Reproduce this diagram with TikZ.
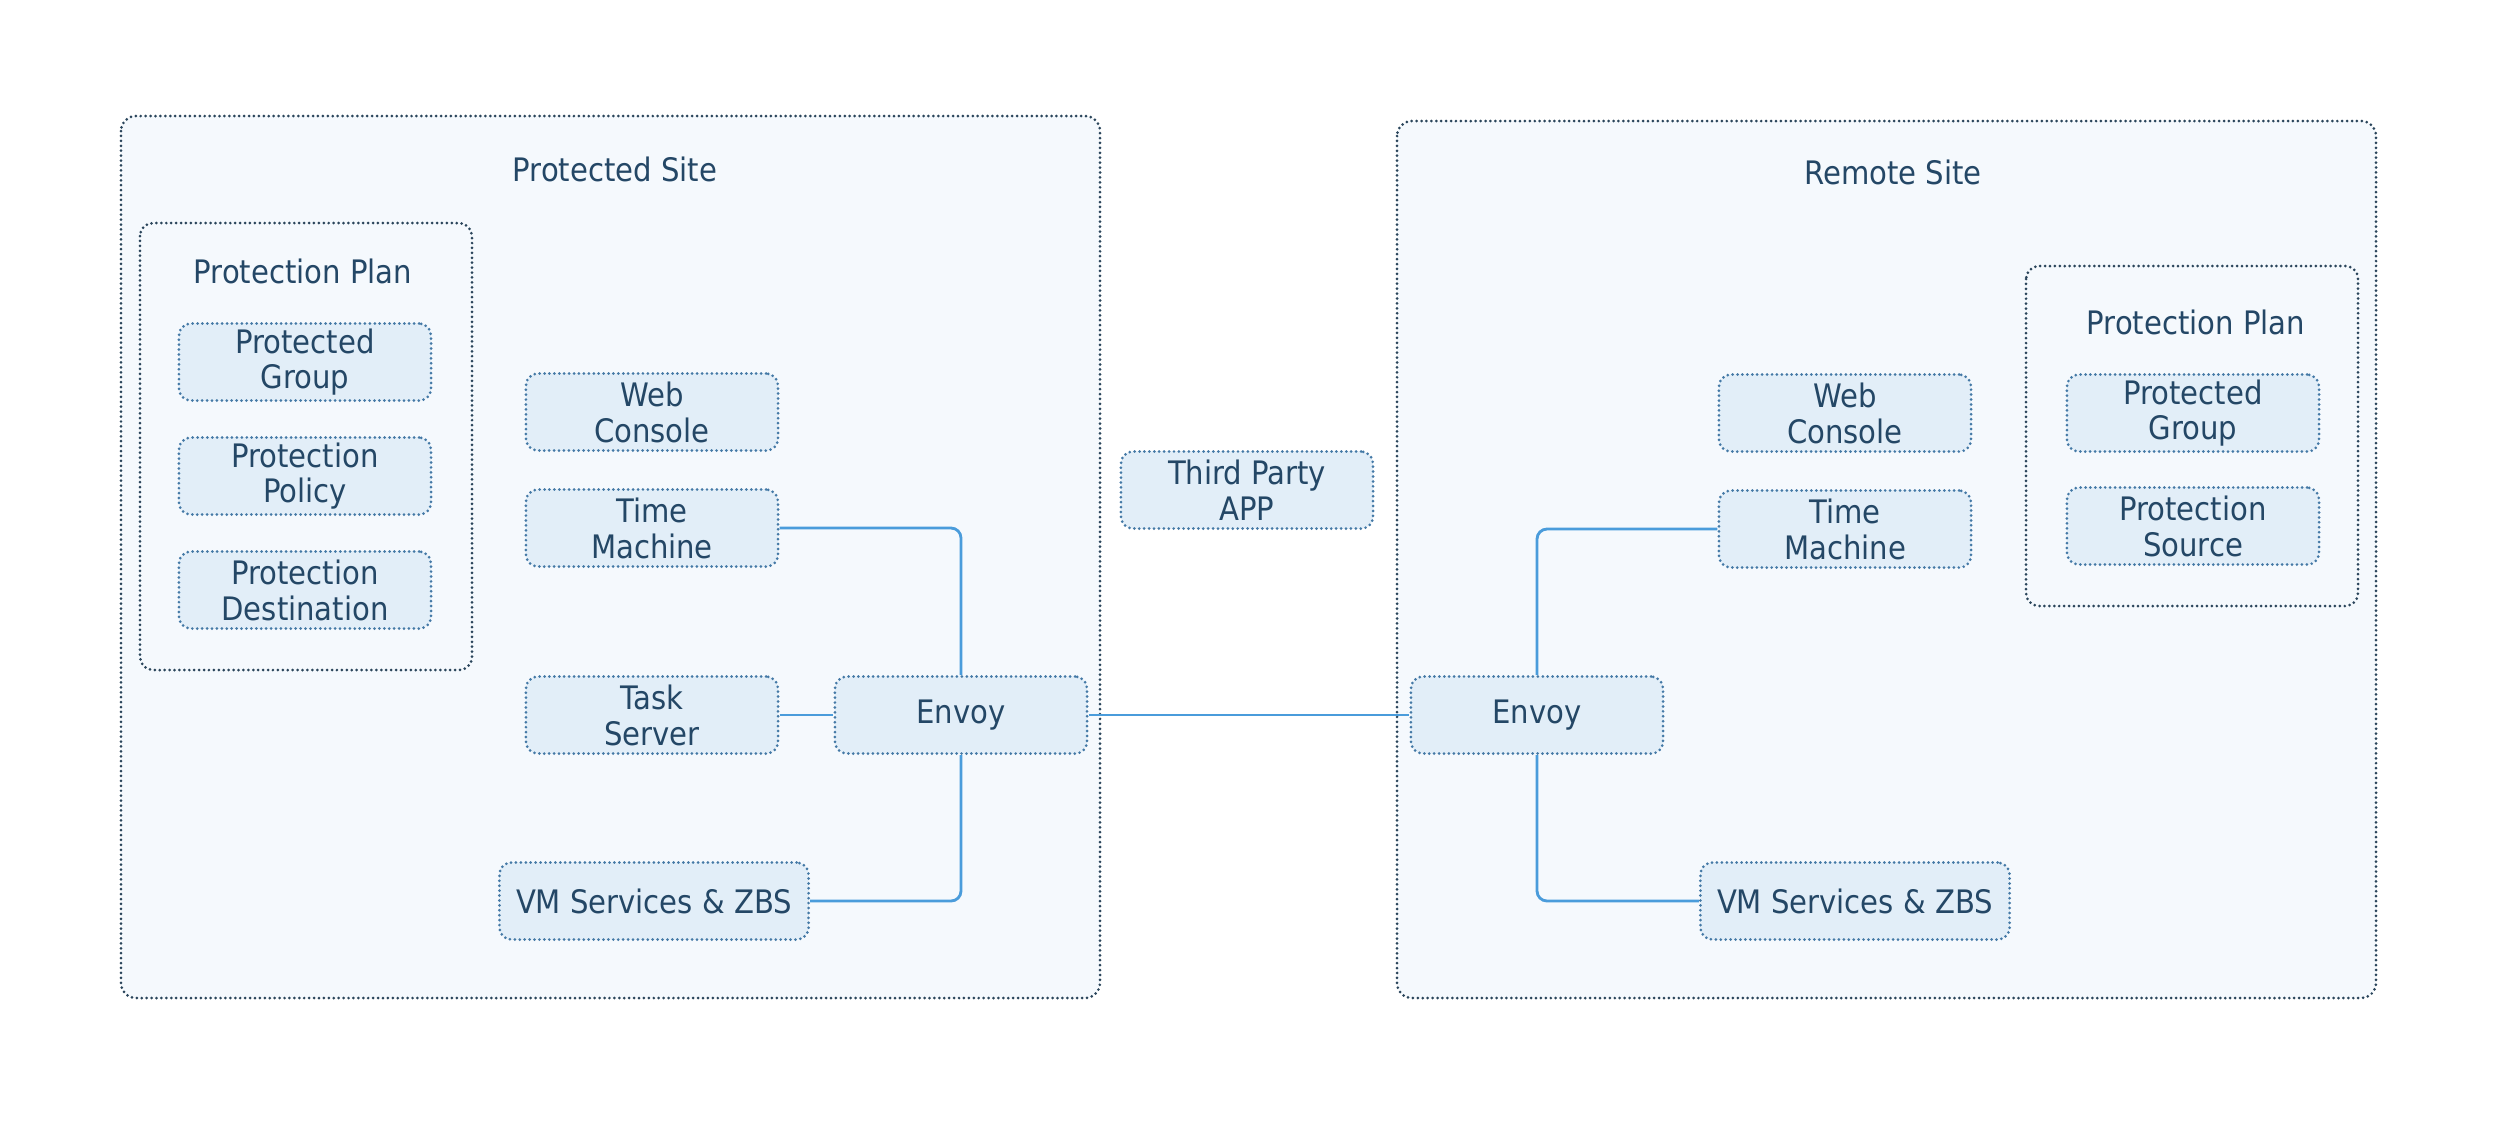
\documentclass[tikz,border=0pt]{standalone}
\usepackage{fontspec}
\setmainfont{DejaVu Sans Condensed}
\definecolor{txt}{HTML}{244766}
\definecolor{outerline}{HTML}{2A455B}
\definecolor{outerfill}{HTML}{F5F9FD}
\definecolor{innerline}{HTML}{4479A6}
\definecolor{innerfill}{HTML}{E2EEF8}
\definecolor{conn}{HTML}{4A9CDB}
\tikzset{
  dots/.style={line width=0.85pt, line cap=round, dash pattern=on 0pt off 1.4pt},
  sitebox/.style={draw=outerline, fill=outerfill, dots, rounded corners=0.15cm},
  planbox/.style={draw=outerline, fill=outerfill, dots, rounded corners=0.13cm},
  item/.style={draw=innerline, fill=innerfill, dots, rounded corners=0.12cm,
    minimum width=2.52cm, minimum height=0.77cm, inner sep=0pt, align=center,
    text=txt, font=\fontsize{9.2}{10.2}\selectfont},
  wideitem/.style={item, minimum width=3.09cm},
  lbl/.style={text=txt, font=\fontsize{9.2}{10.2}\selectfont, inner sep=0pt},
  link/.style={draw=conn, line width=0.8pt, rounded corners=0.1cm}
}
\begin{document}
\begin{tikzpicture}[x=0.01cm,y=-0.01cm]
\useasboundingbox (0,0) rectangle (2500,1120);
\fill[white] (0,0) rectangle (2500,1120);
% sites
\draw[sitebox] (121,116) rectangle (1100,998);
\draw[sitebox] (1397,121) rectangle (2376,998);
\node[lbl] (psl) at (615,169) {Protected Site};
\node[lbl] (rsl) at (1893,172) {Remote Site};
% protection plans
\draw[planbox] (140,223) rectangle (472,670);
\node[lbl] (ppl) at (303,271) {Protection Plan};
\draw[planbox] (2026,266) rectangle (2358,606);
\node[lbl] (ppr) at (2196,322) {Protection Plan};
% left items
\node[item] (pgL) at (305,362) {Protected\\Group};
\node[item] (ppol) at (305,476) {Protection\\Policy};
\node[item] (pdest) at (305,590) {Protection\\Destination};
\node[item] (webL) at (652,412) {Web\\Console};
\node[item] (tmL) at (652,528) {Time\\Machine};
\node[item] (ts) at (652,715) {Task\\Server};
\node[item] (envL) at (961,715) {Envoy};
\node[wideitem] (vmL) at (654,901) {VM Services \& ZBS};
\node[item] (tpa) at (1247,490) {Third Party\\APP};
% right items
\node[item] (webR) at (1845,413) {Web\\Console};
\node[item] (tmR) at (1845,529) {Time\\Machine};
\node[item] (envR) at (1537,715) {Envoy};
\node[wideitem] (vmR) at (1855,901) {VM Services \& ZBS};
\node[item] (pgR) at (2193,413) {Protected\\Group};
\node[item] (psrc) at (2193,526) {Protection\\Source};
% connectors
\draw[link] (tmL.east) -| (envL.north);
\draw[link] (ts.east) -- (envL.west);
\draw[link] (vmL.east) -| (envL.south);
\draw[link] (envL.east) -- (envR.west);
\draw[link] (tmR.west) -| (envR.north);
\draw[link] (vmR.west) -| (envR.south);
\end{tikzpicture}
\end{document}
